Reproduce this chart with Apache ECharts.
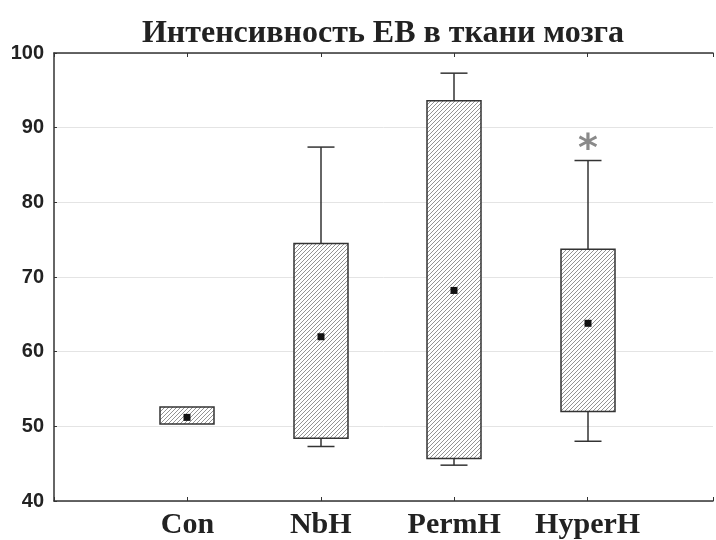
<!DOCTYPE html>
<html><head><meta charset="utf-8">
<script src="https://cdn.jsdelivr.net/npm/echarts@6/dist/echarts.min.js"></script>
<style>html,body{margin:0;padding:0;background:#fff}#c{width:716px;height:540px}</style>
</head><body><div id="c"></div>
<script>
var categories = ['Con', 'NbH', 'PermH', 'HyperH'];
var whiskerLow = [null, 47.3, 44.8, 48.0];
var q1 = [50.3, 48.4, 45.7, 52.0];
var q3 = [52.6, 74.5, 93.6, 73.7];
var whiskerHigh = [null, 87.4, 97.3, 85.6];
var means = [51.2, 62.0, 68.2, 63.8];
var stars = [null, null, null, 88.0];
var yTicks = [40, 50, 60, 70, 80, 90, 100];

var data = categories.map(function (c, i) {
  return [i + 1, whiskerLow[i], q1[i], q3[i], whiskerHigh[i], means[i], stars[i]];
});

var pc = document.createElement('canvas');
pc.width = 4; pc.height = 4;
var px = pc.getContext('2d');
px.fillStyle = '#fff'; px.fillRect(0, 0, 4, 4);
px.strokeStyle = '#777'; px.lineWidth = 0.8;
px.beginPath();
px.moveTo(-1, 5); px.lineTo(5, -1);
px.moveTo(-1, 1); px.lineTo(1, -1);
px.moveTo(3, 5); px.lineTo(5, 3);
px.stroke();

var chart = echarts.init(document.getElementById('c'), null, {renderer: 'canvas'});

function renderItem(params, api) {
  var x = api.value(0);
  var children = [];
  var boxW = 54, capW = 27;
  var pLo = api.value(1) != null && !isNaN(api.value(1)) ? api.coord([x, api.value(1)]) : null;
  var pQ1 = api.coord([x, api.value(2)]);
  var pQ3 = api.coord([x, api.value(3)]);
  var pHi = api.value(4) != null && !isNaN(api.value(4)) ? api.coord([x, api.value(4)]) : null;
  var pM = api.coord([x, api.value(5)]);
  var cx = Math.round(pQ1[0]);
  var ls = {stroke: '#333', lineWidth: 1.5, fill: null};
  if (pHi) {
    children.push({type: 'line', shape: {x1: cx, y1: pHi[1], x2: cx, y2: pQ3[1]}, style: ls});
    children.push({type: 'line', shape: {x1: cx - capW / 2, y1: pHi[1], x2: cx + capW / 2, y2: pHi[1]}, style: ls});
  }
  if (pLo) {
    children.push({type: 'line', shape: {x1: cx, y1: pLo[1], x2: cx, y2: pQ1[1]}, style: ls});
    children.push({type: 'line', shape: {x1: cx - capW / 2, y1: pLo[1], x2: cx + capW / 2, y2: pLo[1]}, style: ls});
  }
  children.push({type: 'rect', shape: {x: cx - boxW / 2, y: pQ3[1], width: boxW, height: pQ1[1] - pQ3[1]},
    style: {fill: {image: pc, repeat: 'repeat'}, stroke: '#333', lineWidth: 1.5}});
  children.push({type: 'rect', shape: {x: cx - 3.5, y: pM[1] - 3.5, width: 7, height: 7}, style: {fill: '#111'}});
  var s = api.value(6);
  if (s != null && !isNaN(s)) {
    var pS = api.coord([x, s]);
    children.push({type: 'text', x: cx, y: pS[1] + 8, style: {text: '*', fill: '#8a8a8a', font: 'bold 38px "DejaVu Sans"', align: 'center', verticalAlign: 'middle'}});
  }
  return {type: 'group', children: children};
}

chart.setOption({
  animation: false,
  backgroundColor: '#fff',
  title: {
    text: 'Интенсивность ЕВ в ткани мозга',
    left: 378, top: 13, textAlign: 'center',
    textStyle: {fontFamily: '"Liberation Serif"', fontWeight: 'bold', fontSize: 32, color: '#222'}
  },
  grid: {left: 54, right: 0, top: 53, bottom: 37, containLabel: false},
  xAxis: [{
    type: 'value', min: 0, max: 4.94, interval: 1, position: 'bottom',
    axisLine: {show: true, lineStyle: {color: '#333', width: 1.5}},
    axisTick: {show: true, inside: true, length: 4, lineStyle: {color: '#333'}},
    splitLine: {show: false},
    axisLabel: {
      margin: 9,
      fontFamily: '"Liberation Serif"', fontWeight: 'bold', fontSize: 30, color: '#222',
      formatter: function (v) { return categories[Math.round(v) - 1] || ''; }
    }
  }, {
    type: 'value', min: 0, max: 4.94, interval: 1, position: 'top',
    axisLine: {show: true, lineStyle: {color: '#333', width: 1.5}},
    axisTick: {show: true, inside: true, length: 4, lineStyle: {color: '#333'}},
    splitLine: {show: false}, axisLabel: {show: false}
  }],
  yAxis: {
    type: 'value', min: 40, max: 100, interval: 10,
    axisLine: {show: true, lineStyle: {color: '#333', width: 1.5}},
    axisTick: {show: true, inside: true, length: 3, lineStyle: {color: '#333'}},
    splitLine: {show: true, lineStyle: {color: '#e4e4e4', width: 1}},
    axisLabel: {
      margin: 10,
      fontFamily: '"Liberation Sans"', fontWeight: 'bold', fontSize: 20, color: '#222',
      formatter: function (v) { return yTicks.indexOf(v) >= 0 ? String(v) : ''; }
    }
  },
  series: [{
    type: 'custom',
    renderItem: renderItem,
    encode: {x: 0, y: [1, 2, 3, 4, 5]},
    data: data,
    clip: false,
    z: 5
  }]
});
</script>
</body></html>
